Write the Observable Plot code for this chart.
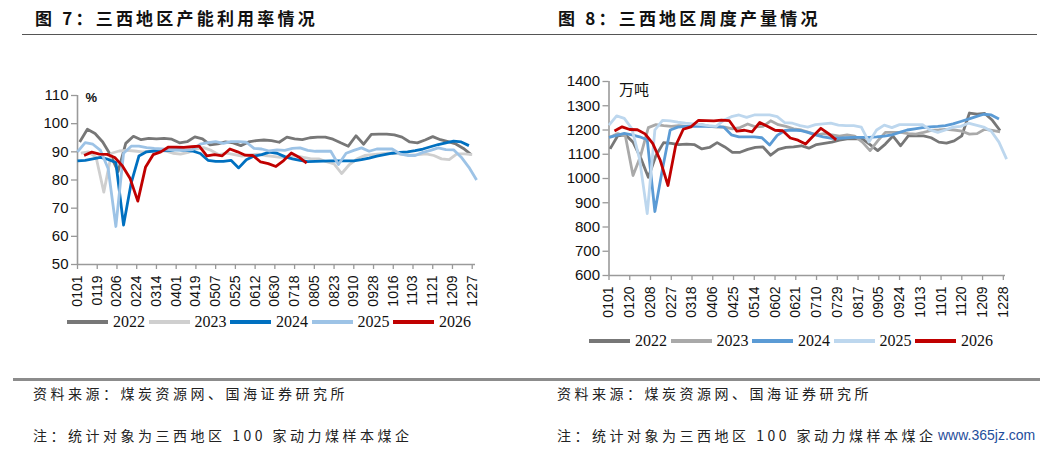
<!DOCTYPE html>
<html>
<head>
<meta charset="utf-8">
<script src="https://cdn.jsdelivr.net/npm/d3@7"></script>
<script src="https://cdn.jsdelivr.net/npm/@observablehq/plot@0.6"></script>
<style>
  html, body { margin: 0; padding: 0; background: #fff; }
  #root { position: relative; width: 1059px; height: 451px; overflow: hidden; font-family: "Liberation Sans", Arial, sans-serif; }
  .title { position: absolute; top: 8px; font-family: "Noto Sans CJK SC", sans-serif; font-weight: 700; font-size: 17px; line-height: 20px; letter-spacing: 3.2px; color: #111; white-space: nowrap; }
  .hline { position: absolute; left: 22px; width: 1015px; top: 34px; height: 1px; background: #555; }
  .bline { position: absolute; left: 13px; width: 1027px; top: 378px; height: 2.5px; background: #8c8c8c; }
  .note { position: absolute; font-family: "Noto Sans CJK SC", sans-serif; font-size: 14px; line-height: 18px; letter-spacing: 3.5px; color: #222; white-space: nowrap; }
  .wm { position: absolute; left: 938px; top: 427px; font-family: "Liberation Sans", Arial, sans-serif; font-size: 14px; color: #1f4e9c; white-space: nowrap; }
  .chart { position: absolute; }
  .leg { position: absolute; height: 20px; }
  .leg .sw { position: absolute; left: 0; top: 8px; width: 41px; height: 4px; }
  .leg .lt { position: absolute; left: 46px; top: 0; font-family: "Liberation Serif", "Times New Roman", serif; font-size: 16px; line-height: 20px; color: #111; }
</style>
</head>
<body>
<div id="root">
  <div class="title" style="left:35px">图 7：三西地区产能利用率情况</div>
  <div class="title" style="left:558px">图 8：三西地区周度产量情况</div>
  <div class="hline"></div>
  <div id="c1" class="chart" style="left:0;top:80px"></div>
  <div id="c2" class="chart" style="left:530px;top:65px"></div>
  <div class="bline"></div>
  <div class="note" style="left:33px;top:384px">资料来源：煤炭资源网、国海证券研究所</div>
  <div class="note" style="left:557px;top:384px">资料来源：煤炭资源网、国海证券研究所</div>
  <div class="note" style="left:33px;top:426px">注：统计对象为三西地区 100 家动力煤样本煤企</div>
  <div class="note" style="left:557px;top:426px">注：统计对象为三西地区 100 家动力煤样本煤企</div>
  <div class="wm">www.365jz.com</div>
</div>
<script>
// ---------- categories & tick labels ----------
const years = ["2022", "2023", "2024", "2025", "2026"];
const leftTicks = ["0101","0119","0206","0224","0314","0401","0419","0507","0525","0612","0630","0718","0805","0823","0910","0928","1016","1103","1121","1209","1227"];
const rightTicks = ["0101","0120","0208","0227","0318","0406","0425","0514","0602","0621","0710","0729","0817","0905","0924","1013","1101","1120","1209","1228"];
const leftYTicks = [50, 60, 70, 80, 90, 100, 110];
const rightYTicks = [600, 700, 800, 900, 1000, 1100, 1200, 1300, 1400];
const leftUnit = "%";
const rightUnit = "万吨";

// first weekly observation date (MMDD) of each year's series
const leftStarts = ["0103", "0104", "0101", "0101", "0107"];
const rightStarts = ["0102", "0102", "0101", "0101", "0106"];

// ---------- 图7 capacity utilisation (%), weekly ----------
const util2022 = [93.5,98,96.5,93.5,89,83,93,95.5,94.3,94.8,94.6,94.8,94.5,93.2,93.6,95.3,94.6,92.5,92.8,93.5,93.2,92.2,93.5,94,94.2,94,93.4,95.2,94.6,94.3,95,95.2,95.2,94.5,93.2,92,95.7,92.7,96.2,96.3,96.3,96,95.2,93.5,93.2,94.2,95.4,94.3,93.6,92.8,91.2,89];
const util2023 = [89.5,90,88,75.7,89.5,90.3,90.5,90.3,90,90.2,90.5,90.3,89.5,89.2,89.8,91,91.5,90.5,89,89.5,89,88.5,88.8,89.2,88.7,88.4,88,88.2,88.6,88,87.5,87.5,86.5,85.7,82.3,85.5,87.5,88.7,89,89.3,89.5,89.5,89,88.8,89,89.3,88.7,87.5,87.2,89.3,89.3,89];
const util2024 = [86.8,87,87.5,88,87.3,86.2,64,79,88.5,90,90.3,90.5,90.5,90.8,90.5,90.3,89.4,87,86.6,86.6,87,84.3,87.2,88.5,89,89.9,89.5,88.3,87.5,87,86.5,86.6,86.7,86.8,86.8,86.8,86.8,87.2,87.8,88.5,89,89.5,89.8,90,90.4,91,91.8,92.6,93.2,93.8,93.5,92.2];
const util2025 = [90,93.3,92.7,90.5,84,63.5,89.5,92,92,91.5,91.2,91,90.8,90.8,90.5,90.8,92.7,93.3,93.6,93,93.6,93.6,93.4,91.2,91,90.3,90.7,90.5,91.2,91.4,90.5,90.2,90.2,90.2,85.5,89.5,90.5,91.4,90.2,91,91,91,89.3,88.7,88.7,89.8,90.5,91.4,90.8,90.7,88.1,84.5,80];
const util2026 = [88.7,89.9,89.2,89.1,88,85,80.5,72.5,84.5,89,90,91.7,91.7,91.6,91.8,92,88.6,89,88.6,91,90,88.8,88.7,86.4,85.8,84.8,86.9,89.6,88.1,86];

// ---------- 图8 weekly output (万吨) ----------
const out2022 = [1122,1176,1180,1150,1085,1005,1095,1148,1145,1140,1142,1140,1122,1128,1148,1130,1108,1108,1120,1128,1130,1096,1120,1128,1130,1135,1125,1140,1145,1150,1158,1163,1163,1163,1140,1115,1142,1175,1135,1176,1176,1176,1168,1150,1146,1155,1176,1270,1265,1268,1240,1198];
const out2023 = [1170,1185,1175,1012,1094,1210,1222,1218,1215,1218,1215,1220,1222,1215,1212,1212,1205,1210,1225,1213,1215,1238,1222,1215,1205,1200,1190,1180,1185,1180,1175,1180,1175,1150,1115,1155,1190,1190,1190,1185,1183,1190,1198,1200,1203,1200,1195,1183,1185,1203,1198,1192];
const out2024 = [1170,1178,1186,1180,1172,1160,864,1040,1200,1212,1215,1215,1215,1215,1215,1212,1180,1172,1172,1172,1168,1138,1178,1198,1200,1198,1190,1180,1172,1166,1166,1168,1170,1170,1170,1172,1175,1180,1190,1200,1205,1210,1213,1215,1218,1225,1235,1245,1255,1265,1262,1245];
const out2025 = [1220,1258,1248,1205,1080,855,1200,1240,1238,1232,1228,1225,1222,1218,1215,1240,1255,1262,1252,1262,1262,1262,1255,1230,1228,1218,1212,1222,1225,1228,1220,1218,1218,1212,1150,1200,1220,1210,1222,1222,1222,1222,1200,1190,1200,1212,1215,1228,1220,1212,1195,1150,1080];
const out2026 = [1196,1213,1202,1201,1184,1145,1074,971,1135,1203,1213,1240,1239,1238,1241,1239,1195,1199,1192,1231,1215,1199,1197,1167,1158,1142,1175,1207,1185,1159];

const leftColors = ["#777777", "#cfcfcf", "#0070c0", "#9dc3e6", "#c00000"];
const rightColors = ["#777777", "#a9a9a9", "#5b9bd5", "#bdd7ee", "#c00000"];

// ---------- helpers ----------
function doy(mmdd) {
  const m = +mmdd.slice(0, 2), d = +mmdd.slice(2);
  return (Date.UTC(2023, m - 1, d) - Date.UTC(2023, 0, 1)) / 864e5;
}
function toRows(list, starts) {
  return list.flatMap((vals, i) => vals.map((v, k) => ({ year: years[i], day: doy(starts[i]) + 7 * k, value: v })));
}

function makeChart(opts) {
  const tickDays = opts.ticks.map(doy);
  const labelOf = new Map(tickDays.map((d, i) => [d, opts.ticks[i]]));
  const data = toRows(opts.series, opts.starts);
  return Plot.plot({
    width: opts.width, height: opts.height,
    marginLeft: opts.ml, marginRight: opts.mr, marginTop: opts.mt, marginBottom: opts.mb,
    style: { fontFamily: "'Liberation Sans', Arial, sans-serif", fontSize: "14px", color: "#111", background: "transparent" },
    x: { domain: [0, 363], label: null },
    y: { domain: [opts.yTicks[0], opts.yTicks[opts.yTicks.length - 1]], label: null },
    color: { domain: years, range: opts.colors },
    marks: [
      Plot.axisY({ ticks: opts.yTicks, tickFormat: d => String(d), label: null, tickSize: 6, tickPadding: 3, fontSize: 15, stroke: "#999", strokeWidth: 1.3, fill: "#111" }),
      Plot.axisX({ ticks: tickDays, tickFormat: d => labelOf.get(d), label: null, tickRotate: -90, tickSize: 5, tickPadding: 6, fontSize: 14, stroke: "#999", strokeWidth: 1.3, fill: "#111" }),
      Plot.ruleX([0], { stroke: "#9a9a9a", strokeWidth: 1.6 }),
      Plot.ruleY([opts.yTicks[0]], { stroke: "#9a9a9a", strokeWidth: 1.6 }),
      Plot.line(data, { x: "day", y: "value", z: "year", stroke: "year", strokeWidth: 2.8, strokeLinejoin: "round", strokeLinecap: "butt" }),
      Plot.text([opts.unit], { frameAnchor: "top-left", dx: opts.unitDx, dy: opts.unitDy, fontSize: opts.unitSize, fontWeight: opts.unitWeight, fontFamily: opts.unitFont, fill: "#111", lineAnchor: "top" })
    ]
  });
}

const chart1 = makeChart({
  width: 530, height: 235, ml: 77, mr: 55, mt: 15, mb: 51,
  ticks: leftTicks, yTicks: leftYTicks, series: [util2022, util2023, util2024, util2025, util2026],
  starts: leftStarts, colors: leftColors, unit: leftUnit, unitDx: 8, unitDy: -3, unitSize: 13, unitWeight: "bold", unitFont: "'Liberation Sans', Arial, sans-serif"
});
document.getElementById("c1").appendChild(chart1);

const chart2 = makeChart({
  width: 529, height: 260, ml: 78.5, mr: 54, mt: 16, mb: 50,
  ticks: rightTicks, yTicks: rightYTicks, series: [out2022, out2023, out2024, out2025, out2026],
  starts: rightStarts, colors: rightColors, unit: rightUnit, unitDx: 10, unitDy: 3, unitSize: 15, unitWeight: "normal", unitFont: "'Noto Sans CJK SC', sans-serif"
});
document.getElementById("c2").appendChild(chart2);

// ---------- legends ----------
function makeLegend(x0, top, colors) {
  const root = document.getElementById("root");
  years.forEach((y, i) => {
    const item = document.createElement("div");
    item.className = "leg";
    item.style.left = (x0 + i * 81.5) + "px";
    item.style.top = top + "px";
    item.style.width = "80px";
    const sw = document.createElement("div");
    sw.className = "sw";
    sw.style.background = colors[i];
    const t = document.createElement("div");
    t.className = "lt";
    t.textContent = y;
    item.appendChild(sw);
    item.appendChild(t);
    root.appendChild(item);
  });
}
makeLegend(67, 312, leftColors);
makeLegend(589, 331, rightColors);
</script>
</body>
</html>
